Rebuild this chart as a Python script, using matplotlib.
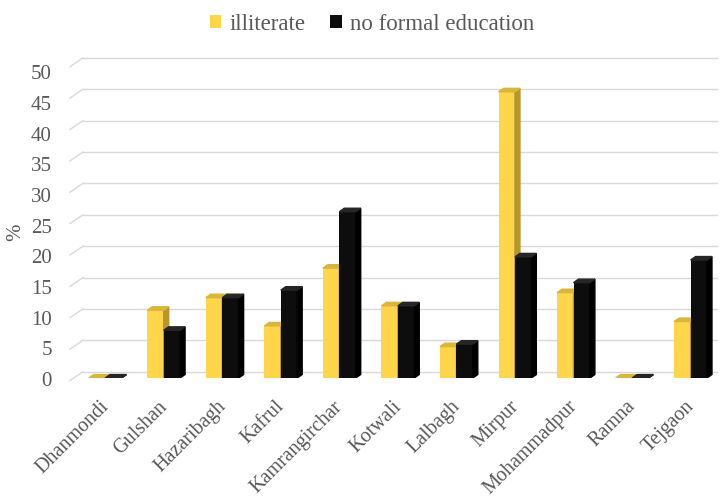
import matplotlib.pyplot as plt
from matplotlib.patches import Polygon
import numpy as np

plt.rcParams['font.family'] = ['Liberation Serif', 'DejaVu Serif']

districts = ["Dhanmondi", "Gulshan", "Hazaribagh", "Kafrul", "Kamrangirchar",
             "Kotwali", "Lalbagh", "Mirpur", "Mohammadpur", "Ramna", "Tejgaon"]
illiterate = [0, 10.8, 12.8, 8.3, 17.5, 11.5, 5.0, 45.6, 13.6, 0, 9.0]
no_formal = [0, 7.6, 12.8, 14.0, 26.5, 11.5, 5.4, 19.3, 15.2, 0, 18.8]
yticks = list(range(0, 55, 5))

yellow = "#FFD54A"
yellow_side = "#B8962C"
yellow_top = "#D9B53C"
black = "#0D0D0D"
black_side = "#000000"
black_top = "#262626"
grey = "#595959"

fig = plt.figure(figsize=(7.22, 4.98), dpi=100)
ax = fig.add_axes([0.097, 0.241, 0.896, 0.649])
ax.set_xlim(-0.6, 10.45)
ax.set_ylim(0, 51.5)

# pseudo-3D depth offsets (data units)
bdx, bdy = 0.085, 0.55
gdx, gdy = 0.22, 1.0

# back-wall gridlines with a small diagonal at the left
for v in yticks:
    ax.plot([-0.6, -0.6 + gdx], [v - 0.4, v + gdy], color="#d9d9d9", lw=1, zorder=0, clip_on=False)
    ax.plot([-0.6 + gdx, 10.45], [v + gdy, v + gdy], color="#d9d9d9", lw=1, zorder=0, clip_on=False)

x = np.arange(len(districts))
w = 0.28

def bar3d(xl, h, front, side, top, z):
    ax.bar(xl, h, width=w, align="edge", color=front, zorder=z)
    ax.add_patch(Polygon([(xl + w, 0), (xl + w + bdx, bdy), (xl + w + bdx, h + bdy), (xl + w, h)],
                         closed=True, color=side, zorder=z))
    ax.add_patch(Polygon([(xl, h), (xl + bdx, h + bdy), (xl + w + bdx, h + bdy), (xl + w, h)],
                         closed=True, color=top, zorder=z))

for i in range(len(districts)):
    bar3d(x[i] - w, illiterate[i], yellow, yellow_side, yellow_top, 2 + 2 * i)
    bar3d(x[i], no_formal[i], black, black_side, black_top, 3 + 2 * i)

# value labels sit a little below the front face scale
ax.set_yticks([])
for v in yticks:
    ax.text(-0.028, 0.978 * v - 0.59, str(v), transform=ax.get_yaxis_transform(),
            ha="right", va="center", fontsize=15, color=grey)
ax.text(-0.084, 0.452, "%", transform=ax.transAxes, rotation=90,
        ha="center", va="center", fontsize=15, color=grey)

# district names, slanted
ax.set_xticks([])
for i, name in enumerate(districts):
    ax.text(x[i] - 0.1, -0.06, name, transform=ax.get_xaxis_transform(),
            rotation=45, ha="right", va="top", rotation_mode="anchor",
            fontsize=14.5, color=grey)
for s in ax.spines.values():
    s.set_visible(False)

ax.bar([0], [0], color=yellow, label="illiterate")
ax.bar([0], [0], color=black, label="no formal education")
fig.legend(loc="center", bbox_to_anchor=(0.515, 0.951), ncol=2, frameon=False,
           fontsize=16.5, handlelength=0.5, handleheight=0.5, handletextpad=0.35,
           columnspacing=1.1, labelcolor=grey)

fig.savefig("out.png", dpi=100)
